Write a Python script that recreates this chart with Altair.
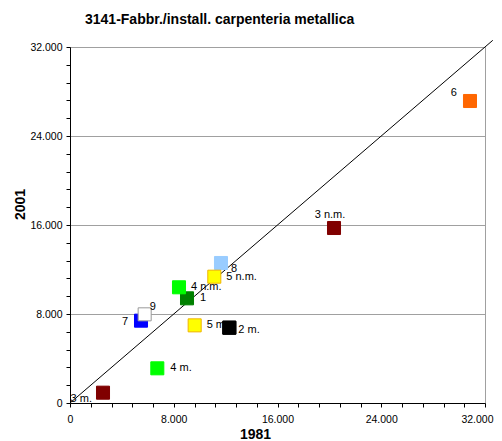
import altair as alt
import pandas as pd

title_text = "3141-Fabbr./install. carpenteria metallica"
labels = ["3 m.", "4 m.", "7", "9", "5 m.", "1", "4 n.m.", "8", "5 n.m.", "2 m.", "3 n.m.", "6"]
x1981 = [2545, 6733, 5475, 5758, 9613, 9022, 8405, 11643, 11127, 12286, 20357, 30843]
y2001 = [927, 3117, 7400, 7970, 6980, 9409, 10400, 12584, 11353, 6770, 15730, 27146]
fills = ["#800000", "#00FF00", "#0000FF", "#FFFFFF", "#FFFF00", "#008000",
         "#00FF00", "#99CCFF", "#FFFF00", "#000000", "#800000", "#FF6600"]
strokes = ["#800000", "#00FF00", "#0000FF", "#999999", "#F0B400", "#008000",
           "#00FF00", "#99CCFF", "#F0B400", "#000000", "#800000", "#FF6600"]
diag = [0, 32600]
tick_values = list(range(0, 32001, 1600))

df = pd.DataFrame({"label": labels, "x": x1981, "y": y2001, "fill": fills, "stroke": strokes})
diag_df = pd.DataFrame({"x": diag, "y": diag})

# label placement (align, dx, dy)
label_style = {
    "3 m.": ("right", -11, 6),
    "4 m.": ("left", 13, 0),
    "7": ("right", -13, 1),
    "9": ("left", 5, -7),
    "5 m.": ("left", 12, 0),
    "1": ("left", 13, 0),
    "4 n.m.": ("left", 12, 0),
    "8": ("left", 10, 6),
    "5 n.m.": ("left", 12, 0),
    "2 m.": ("left", 9, 2),
    "3 n.m.": ("center", -4, -13),
    "6": ("right", -13, -8),
}

FONT = "Liberation Sans"
label_expr = "datum.value % 8000 == 0 ? replace(format(datum.value, ','), ',', '.') : ''"
grid_op = {"condition": {"test": "datum.value % 8000 == 0", "value": 1}, "value": 0}
last_align = {"condition": {"test": "datum.value == 32000", "value": "right"}, "value": "center"}
last_offset = {"condition": {"test": "datum.value == 32000", "value": 8}, "value": 0}

xenc = alt.X("x:Q", scale=alt.Scale(domain=[0, 32000], nice=False, zero=False),
             axis=alt.Axis(values=tick_values, labelExpr=label_expr, grid=False,
                           title="1981", titleFont=FONT, titleFontSize=14, titleFontWeight="bold",
                           titleColor="#000000", titleX=185, titleY=31, titleBaseline="middle",
                           titleAlign="center",
                           labelFont=FONT, labelFontSize=10.5, labelColor="#000000",
                           labelAlign=last_align, labelOffset=last_offset,
                           labelPadding=7, labelFlush=False, labelOverlap=False, labelBound=False,
                           domainColor="#000000", tickColor="#000000", tickSize=4,
                           ticks=True))
yenc = alt.Y("y:Q", scale=alt.Scale(domain=[0, 32000], nice=False, zero=False),
             axis=alt.Axis(values=tick_values, labelExpr=label_expr, grid=True,
                           gridColor="#A0A0A0", gridOpacity=grid_op,
                           title="2001", titleFont=FONT, titleFontSize=14, titleFontWeight="bold",
                           titleColor="#000000", titleAngle=270, titleX=-50, titleY=157,
                           titleBaseline="middle", titleAlign="center",
                           labelFont=FONT, labelFontSize=10.5, labelColor="#000000",
                           labelPadding=4, labelFlush=False, labelOverlap=False, labelBound=False,
                           domainColor="#000000", tickColor="#000000", tickSize=4))

line = alt.Chart(diag_df).mark_line(color="#000000", strokeWidth=1, clip=False).encode(x=xenc, y=yenc)

points = alt.Chart(df).mark_point(shape="square", filled=True, size=170, strokeWidth=1, opacity=1).encode(
    x=xenc, y=yenc,
    fill=alt.Fill("fill:N", scale=None),
    stroke=alt.Stroke("stroke:N", scale=None),
)

layers = [line, points]
for lab in labels:
    align, dx, dy = label_style[lab]
    layers.append(
        alt.Chart(df).transform_filter(alt.datum.label == lab)
        .mark_text(align=align, baseline="middle", dx=dx, dy=dy, font=FONT, fontSize=11, color="#000000")
        .encode(x=xenc, y=yenc, text="label:N")
    )

top_point = alt.Chart(df).transform_filter(alt.datum.label == "2 m.").mark_point(
    shape="square", filled=True, size=170, strokeWidth=1, opacity=1).encode(
    x=xenc, y=yenc,
    fill=alt.Fill("fill:N", scale=None),
    stroke=alt.Stroke("stroke:N", scale=None),
)
layers.append(top_point)

chart = alt.layer(*layers).properties(
    width=415, height=356,
    title=alt.TitleParams(title_text, anchor="start", frame="group", dx=15, offset=11, font=FONT,
                          fontSize=14, fontWeight="bold", color="#000000"),
    autosize=alt.AutoSizeParams(type="none"),
    padding={"left": 62, "top": 39, "right": 9, "bottom": 38},
    background="#FFFFFF",
).configure_view(stroke="#A0A0A0", strokeWidth=1)

chart.save("out.html", embed_options={"renderer": "svg", "actions": False})
